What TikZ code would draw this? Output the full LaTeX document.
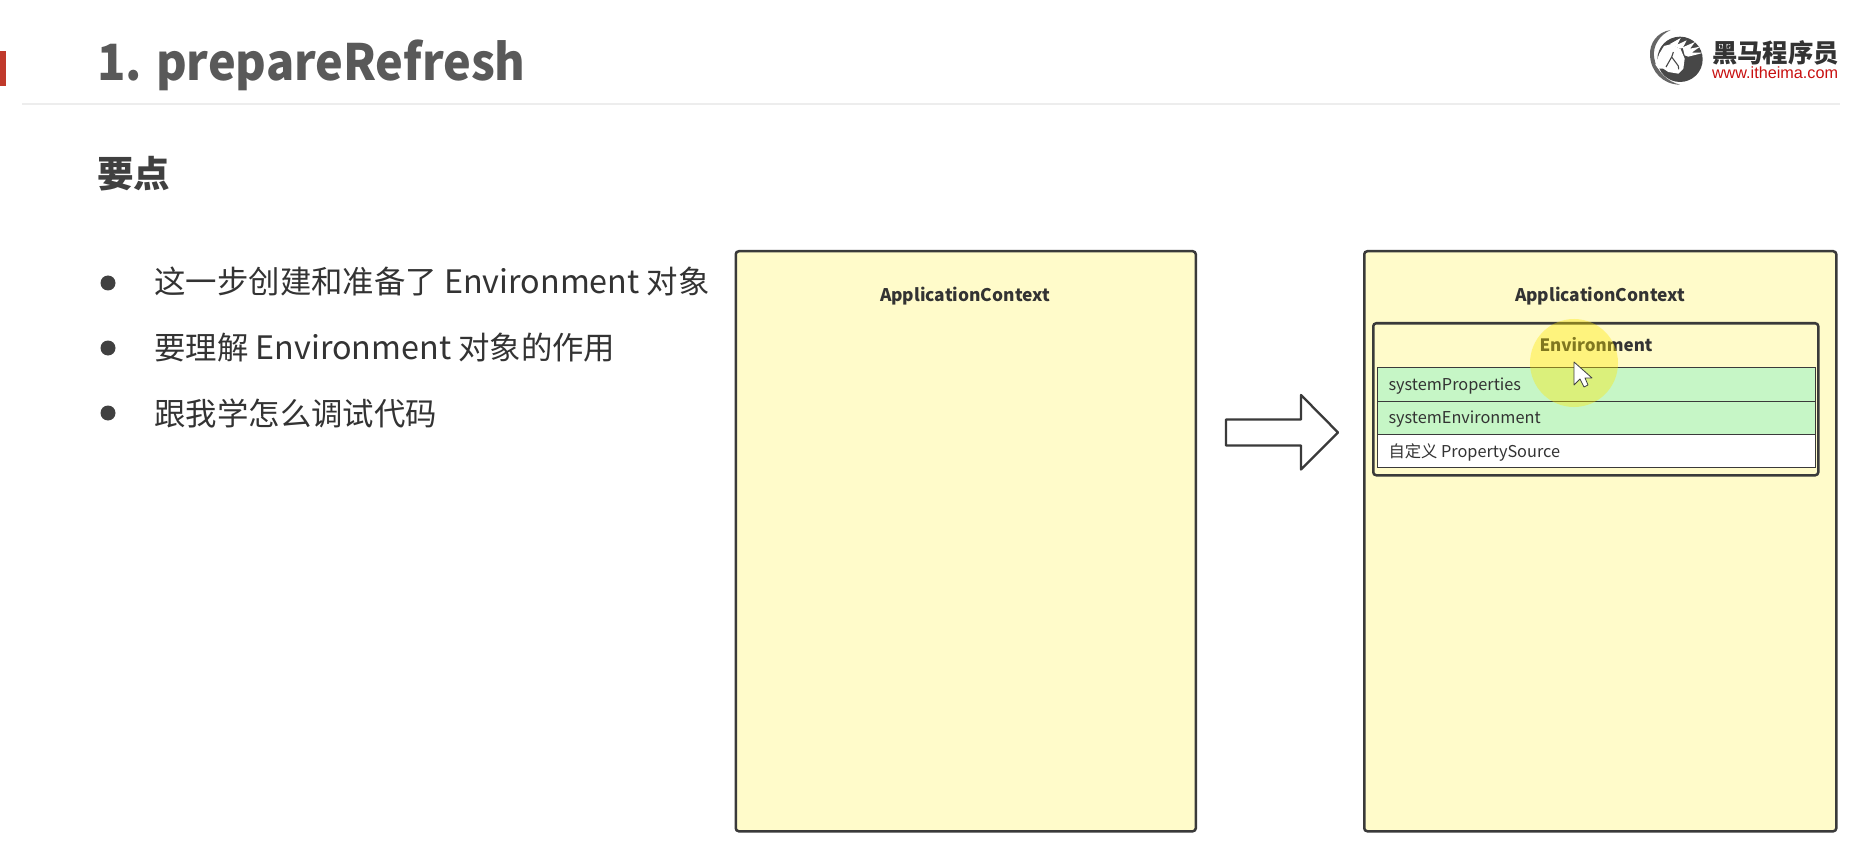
\documentclass[tikz,border=0pt]{standalone}
\usepackage{fontspec}
\setmainfont{Noto Sans CJK SC}
\newfontfamily\urlfont{Liberation Sans}
\definecolor{paleyellow}{HTML}{FFFBCA}
\definecolor{palegreen2}{HTML}{C6F6C6}
\definecolor{inkdark}{HTML}{3A3A3A}
\definecolor{titlegray}{HTML}{595959}
\definecolor{bodygray}{HTML}{333333}
\definecolor{headgray}{HTML}{404040}
\definecolor{barred}{HTML}{C0392B}
\definecolor{urlred}{HTML}{C80F0F}
\newcommand{\fs}[1]{\fontsize{#1}{#1}\selectfont}
\newcommand{\envword}{{\fs{32.3}Environment}}
\tikzset{
  textnode/.style={inner sep=0pt,outer sep=0pt},
  panel/.style={draw=inkdark,fill=paleyellow,line width=2.5pt,rounded corners=3pt,inner sep=0pt},
  rowbox/.style={draw=inkdark,line width=1.3pt,inner sep=0pt,anchor=north west,minimum width=438pt},
  panellabel/.style={textnode,text=bodygray,font=\fs{17.4}\bfseries},
  rowlabel/.style={textnode,text=bodygray,font=\fs{16.3},anchor=base west},
  bulletlabel/.style={textnode,text=bodygray,font=\fs{31.4},anchor=base west},
  bulletdot/.style={circle,fill=headgray,minimum size=15pt,inner sep=0pt},
}
\begin{document}
\begin{tikzpicture}[x=1pt,y=-1pt]
\useasboundingbox (0,0) rectangle (1859,866);
\fill[white] (0,0) rectangle (1859,866);
% header
\fill[barred] (0,51) rectangle (6,86);
\draw[color=black!7,line width=1.2pt] (22,104) -- (1840,104);
\node[textnode,anchor=base west,text=titlegray,font=\fs{50}\bfseries] (title) at (97,81) {\scalebox{.935}[1]{1. prepareRefresh}};
\node[textnode,anchor=base west,text=headgray,font=\fs{36.5}\bfseries] (head) at (97,188) {要点};
% bullets
\node[bulletdot] (d1) at (108,283) {};
\node[bulletdot] (d2) at (108,348) {};
\node[bulletdot] (d3) at (108,413) {};
\node[bulletlabel] (t1) at (154.5,294) {这一步创建和准备了 \envword{} 对象};
\node[bulletlabel] (t2) at (154.5,359) {要理解 \envword{} 对象的作用};
\node[bulletlabel] (t3) at (154.5,425) {跟我学怎么调试代码};
% left panel
\node[panel,minimum width=460pt,minimum height=580pt,anchor=north west] (ctxA) at (734.5,250) {};
\node[panellabel] (ctxAl) at (965,296) {ApplicationContext};
% block arrow
\draw[draw=inkdark,fill=white,line width=2.3pt,line join=round]
  (1226,419.5) -- (1301,419.5) -- (1301,395) -- (1338,432.5) -- (1301,469.5) -- (1301,445.5) -- (1226,445.5) -- cycle;
% right panel
\node[panel,minimum width=472pt,minimum height=580pt,anchor=north west] (ctxB) at (1363,250) {};
\node[panellabel] (ctxBl) at (1600,296) {ApplicationContext};
\node[panel,minimum width=445pt,minimum height=152pt,anchor=north west] (env) at (1372,322) {};
\node[rowbox,fill=palegreen2,minimum height=34pt] (r1) at (1376.5,367) {};
\node[rowbox,fill=palegreen2,minimum height=33pt] (r2) at (1376.5,401) {};
\node[rowbox,fill=white,minimum height=33pt] (r3) at (1376.5,434) {};
\node[panellabel,font=\fs{17}\bfseries] (envl) at (1596,345) {Environment};
\node[rowlabel] (r1l) at (1388.5,390.5) {systemProperties};
\node[rowlabel] (r2l) at (1388.5,423.5) {systemEnvironment};
\node[rowlabel] (r3l) at (1388.5,457.5) {自定义 PropertySource};
% pointer highlight
\fill[yellow!90!orange,fill opacity=.38] (1574,363) circle (44);
\draw[draw=black!75,fill=white,line width=.8pt,line join=round]
  (1574,362) -- (1574,385) -- (1580,379) -- (1584,387) -- (1588,385) -- (1585,378) -- (1592,378) -- cycle;
% logo
\begin{scope}[shift={(1640,22)},x=.3333pt,y=-.3333pt]
  \fill[black!60] (92,24) .. controls (50,30) and (28,65) .. (30,100)
     .. controls (32,150) and (70,188) .. (120,188)
     .. controls (85,180) and (48,150) .. (42,105)
     .. controls (38,70) and (60,38) .. (92,24) -- cycle;
  \fill[black!72] (120,112) circle (68);
  \fill[white] (46,128) -- (58,95) -- (72,72) -- (95,66) -- (122,82) -- (134,110) -- (130,140) -- (115,155) -- (85,150) -- (70,140) -- (55,140) -- cycle;
  \fill[white] (90,66) -- (122,48) -- (112,68) -- (140,55) -- (128,78) -- (120,80) -- cycle;
  \fill[white] (128,76) -- (165,60) -- (150,80) -- (180,74) -- (155,92) -- (192,92) -- (145,104) -- (134,100) -- cycle;
  \draw[black!72,line width=1.1pt] (100,90) -- (95,105) -- (78,135) (95,105) -- (115,132) -- (116,142);
\end{scope}
\node[textnode,anchor=west,text=black!80,font=\fs{25.4}\bfseries] (brand) at (1712,53) {黑马程序员};
\node[textnode,anchor=west,text=urlred,font=\fs{16.2}\urlfont] (url) at (1712,73) {www.itheima.com};
\end{tikzpicture}
\end{document}
